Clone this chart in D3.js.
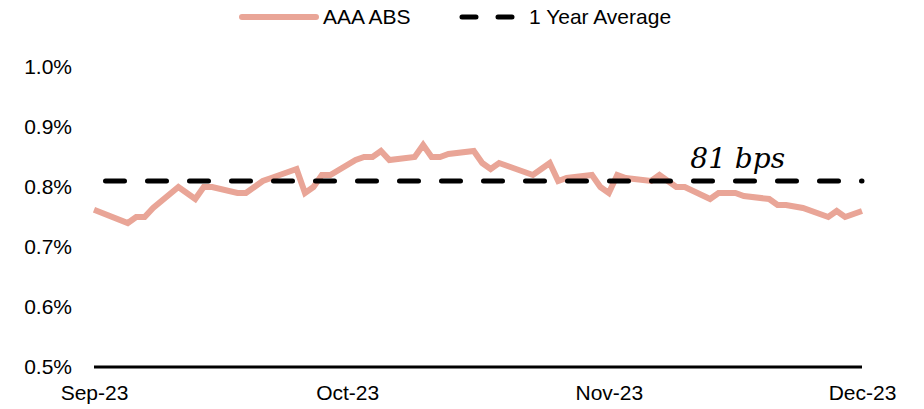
<!DOCTYPE html>
<html>
<head>
<meta charset="utf-8">
<script src="https://cdn.jsdelivr.net/npm/d3@7"></script>
<style>
  body { margin: 0; background: #fff; }
  text { font-family: "Liberation Sans", Arial, sans-serif; fill: #000; }
</style>
</head>
<body>
<script>
// AAA ABS spread vs its 1 year average

var dates = [
    "2023-09-01", "2023-09-05", "2023-09-06", "2023-09-07", "2023-09-08",
    "2023-09-11", "2023-09-12", "2023-09-13", "2023-09-14", "2023-09-15",
    "2023-09-18", "2023-09-19", "2023-09-20", "2023-09-21", "2023-09-22",
    "2023-09-25", "2023-09-26", "2023-09-27", "2023-09-28", "2023-09-29",
    "2023-10-02", "2023-10-03", "2023-10-04", "2023-10-05", "2023-10-06",
    "2023-10-09", "2023-10-10", "2023-10-11", "2023-10-12", "2023-10-13",
    "2023-10-16", "2023-10-17", "2023-10-18", "2023-10-19", "2023-10-20",
    "2023-10-23", "2023-10-24", "2023-10-25", "2023-10-26", "2023-10-27",
    "2023-10-30", "2023-10-31", "2023-11-01", "2023-11-02", "2023-11-03",
    "2023-11-06", "2023-11-07", "2023-11-08", "2023-11-09", "2023-11-10",
    "2023-11-13", "2023-11-14", "2023-11-15", "2023-11-16", "2023-11-17",
    "2023-11-20", "2023-11-21", "2023-11-22", "2023-11-24", "2023-11-27",
    "2023-11-28", "2023-11-29", "2023-11-30", "2023-12-01"
];

var aaaAbs = [
    0.762, 0.740, 0.750, 0.750, 0.765,
    0.800, 0.790, 0.780, 0.800, 0.800,
    0.790, 0.790, 0.800, 0.810, 0.815,
    0.830, 0.790, 0.800, 0.820, 0.820,
    0.845, 0.850, 0.850, 0.860, 0.845,
    0.850, 0.870, 0.850, 0.850, 0.855,
    0.860, 0.840, 0.830, 0.840, 0.835,
    0.820, 0.830, 0.840, 0.810, 0.815,
    0.820, 0.800, 0.790, 0.820, 0.815,
    0.810, 0.820, 0.810, 0.800, 0.800,
    0.780, 0.790, 0.790, 0.790, 0.785,
    0.780, 0.770, 0.770, 0.765, 0.750,
    0.760, 0.750, 0.755, 0.760
];

var yearAverage = 0.81;
var averageLabel = "81 bps";

var monthTicks = ["2023-09-01", "2023-10-01", "2023-11-01", "2023-12-01"];
var yTicks = [0.5, 0.6, 0.7, 0.8, 0.9, 1.0];

var legendNames = ["AAA ABS", "1 Year Average"];

var margin = { top: 67, right: 62, bottom: 42, left: 94 };
var width = 924 - margin.left - margin.right;
var height = 409 - margin.top - margin.bottom;

var parseDate = d3.timeParse("%Y-%m-%d");
var pink = "#E9A597";

var data = dates.map(function (d, i) {
    return { date: parseDate(d), value: aaaAbs[i] };
});

var svg = d3.select("body")
    .append("svg")
    .attr("width", width + margin.left + margin.right)
    .attr("height", height + margin.top + margin.bottom);

var g = svg.append("g")
    .attr("transform", "translate(" + margin.left + "," + margin.top + ")");

var x = d3.scaleTime()
    .domain([parseDate(monthTicks[0]), parseDate(monthTicks[monthTicks.length - 1])])
    .range([0, width]);

var y = d3.scaleLinear()
    .domain([0.5, 1.0])
    .range([height, 0]);

// y axis labels only
var yAxis = d3.axisLeft(y)
    .tickValues(yTicks)
    .tickSize(0)
    .tickPadding(22)
    .tickFormat(function (d) { return d3.format(".1f")(d) + "%"; });

g.append("g")
    .attr("class", "axis y-axis")
    .call(yAxis)
    .call(function (s) { s.select(".domain").remove(); })
    .selectAll("text")
    .style("font-size", "21px");

var xAxis = d3.axisBottom(x)
    .tickValues(monthTicks.map(parseDate))
    .tickSize(0)
    .tickPadding(18)
    .tickFormat(d3.timeFormat("%b-%y"));

g.append("g")
    .attr("class", "axis x-axis")
    .attr("transform", "translate(0," + height + ")")
    .call(xAxis)
    .call(function (s) { s.select(".domain").remove(); })
    .selectAll("text")
    .style("font-size", "21px");

// baseline at 0.5%
g.append("line")
    .attr("x1", 0)
    .attr("x2", width)
    .attr("y1", y(0.5))
    .attr("y2", y(0.5))
    .attr("stroke", "#000")
    .attr("stroke-width", 3);

var line = d3.line()
    .x(function (d) { return x(d.date); })
    .y(function (d) { return y(d.value); });

g.append("path")
    .datum(data)
    .attr("d", line)
    .attr("fill", "none")
    .attr("stroke", pink)
    .attr("stroke-width", 6)
    .attr("stroke-linejoin", "miter");

// 1 year average
g.append("line")
    .attr("x1", 0)
    .attr("x2", width)
    .attr("y1", y(yearAverage))
    .attr("y2", y(yearAverage))
    .attr("stroke", "#000")
    .attr("stroke-width", 5)
    .attr("stroke-linecap", "round")
    .attr("stroke-dasharray", "19,23")
    .attr("stroke-dashoffset", 30.5);

g.append("text")
    .attr("x", x(parseDate("2023-11-09")) + 14)
    .attr("y", y(yearAverage) - 13)
    .style("font-family", "'DejaVu Serif', serif")
    .style("font-style", "italic")
    .style("font-size", "28px")
    .text(averageLabel);

// legend
var legend = svg.append("g").attr("transform", "translate(0,17)");

legend.append("line")
    .attr("x1", 242).attr("x2", 316)
    .attr("stroke", pink)
    .attr("stroke-width", 6)
    .attr("stroke-linecap", "round");

legend.append("text")
    .attr("x", 323)
    .attr("dy", "0.35em")
    .style("font-size", "21px")
    .text(legendNames[0]);

legend.append("line")
    .attr("x1", 462).attr("x2", 515)
    .attr("stroke", "#000")
    .attr("stroke-width", 5)
    .attr("stroke-linecap", "round")
    .attr("stroke-dasharray", "14,22");

legend.append("text")
    .attr("x", 529)
    .attr("dy", "0.35em")
    .style("font-size", "21px")
    .text(legendNames[1]);
</script>
</body>
</html>
